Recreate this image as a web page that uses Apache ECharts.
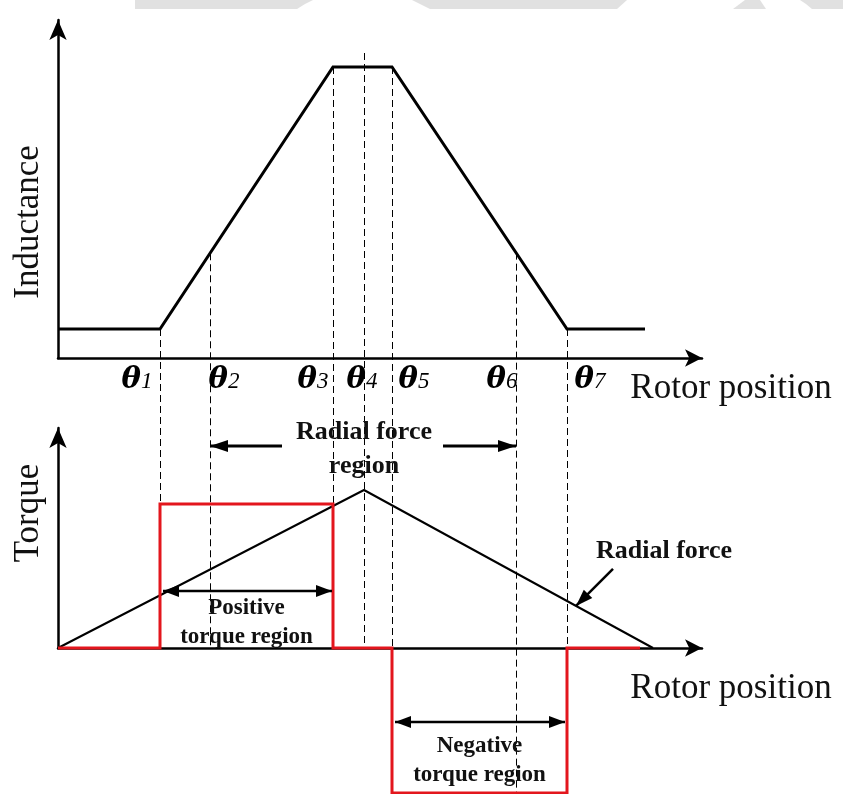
<!DOCTYPE html>
<html>
<head>
<meta charset="utf-8">
<title>Inductance, torque and radial force versus rotor position</title>
<script src="https://cdn.jsdelivr.net/npm/echarts@6/dist/echarts.min.js"></script>
<style>
  html, body { margin: 0; padding: 0; background: #fff; }
  #main { width: 843px; height: 794px; }
</style>
</head>
<body>
<div id="main"></div>
<script>
// Rotor positions of the characteristic angles (rotor-position units)
const thetaNames = ['1', '2', '3', '4', '5', '6', '7'];
const thetaPos = [10.2, 15.2, 27.5, 30.6, 33.4, 45.8, 50.9];

// Phase inductance profile
const inductanceX = [0, 10.2, 27.5, 33.4, 50.9, 58.7];
const inductanceY = [2.9, 2.9, 29.1, 29.1, 2.9, 2.9];

// Radial force profile
const forceX = [0, 30.6, 59.5];
const forceY = [0, 15.8, 0];

// Torque produced by the phase current (positive, then negative region)
const torqueX = [0, 10.2, 10.2, 27.5, 27.5, 33.4, 33.4, 50.9, 50.9, 58.2];
const torqueY = [0, 0, 14.4, 14.4, 0, 0, -14.5, -14.5, 0, 0];

// Axis ranges
const rotorMax = 64.4;
const inductanceMax = 33.8;
const torqueMax = 22;

const SERIF = '"Liberation Serif", "Times New Roman", serif';

function pairs(xs, ys) { return xs.map((x, i) => [x, ys[i]]); }

function axisX(gi) {
  return {
    gridIndex: gi, type: 'value', min: 0, max: rotorMax,
    axisLine: { show: true, onZero: false, symbol: ['none', 'arrow'], symbolSize: [13, 17],
      lineStyle: { color: '#000', width: 2.5 } },
    axisTick: { show: false }, axisLabel: { show: false }, splitLine: { show: false }
  };
}
function axisY(gi, max) {
  return {
    gridIndex: gi, type: 'value', min: 0, max: max,
    axisLine: { show: true, onZero: false, symbol: ['none', 'arrow'], symbolSize: [13, 20],
      lineStyle: { color: '#000', width: 2.5 } },
    axisTick: { show: false }, axisLabel: { show: false }, splitLine: { show: false }
  };
}

const chart = echarts.init(document.getElementById('main'));

chart.setOption({
  animation: false,
  backgroundColor: '#fff',
  grid: [
    { left: 58, top: 20, width: 644, height: 338 },
    { left: 58, top: 428, width: 644, height: 220 }
  ],
  xAxis: [axisX(0), axisX(1)],
  yAxis: [axisY(0, inductanceMax), axisY(1, torqueMax)],
  series: [
    {
      name: 'Inductance', type: 'line', xAxisIndex: 0, yAxisIndex: 0,
      data: pairs(inductanceX, inductanceY), showSymbol: false, clip: false,
      lineStyle: { color: '#000', width: 3, join: 'miter' }, z: 3
    },
    {
      name: 'Radial force', type: 'line', xAxisIndex: 1, yAxisIndex: 1,
      data: pairs(forceX, forceY), showSymbol: false, clip: false,
      lineStyle: { color: '#000', width: 2 }, z: 3
    },
    {
      name: 'Torque', type: 'line', xAxisIndex: 1, yAxisIndex: 1,
      data: pairs(torqueX, torqueY), showSymbol: false, clip: false,
      lineStyle: { color: '#e3161d', width: 3, join: 'miter' }, z: 4
    }
  ]
});

// ---- annotations built on top of the axes' own scales ----
const pA = (x, y) => chart.convertToPixel({ gridIndex: 0 }, [x, y]);
const pB = (x, y) => chart.convertToPixel({ gridIndex: 1 }, [x, y]);

function interp(xs, ys, x) {
  for (let i = 0; i < xs.length - 1; i++) {
    if (x >= xs[i] && x <= xs[i + 1]) {
      if (xs[i + 1] === xs[i]) return ys[i];
      return ys[i] + (ys[i + 1] - ys[i]) * (x - xs[i]) / (xs[i + 1] - xs[i]);
    }
  }
  return ys[ys.length - 1];
}

const g = [];

// faint grey strip along the upper edge
const strip = [
  [[135, 0], [313, 0], [305, 4], [297, 9], [135, 9]],
  [[412, 0], [627, 0], [617, 9], [430, 9], [420, 4]],
  [[745, 0], [760, 0], [766, 9], [733, 9]],
  [[800, 0], [843, 0], [843, 9], [812, 9], [806, 4]]
];
strip.forEach(pts => g.push({ type: 'polygon', shape: { points: pts }, style: { fill: '#e1e1e1' }, z: 0 }));

// dashed guide lines at each characteristic angle (snapped to the pixel grid)
const guideDash = [7, 4];
thetaPos.forEach((t, i) => {
  let topVal = interp(inductanceX, inductanceY, t);
  if (i === 3) topVal = 30.5;           // centre line rises above the plateau
  const top = pA(t, topVal);
  const bottom = pB(t, i === 5 ? torqueY[6] : 0);
  const x = Math.round(top[0]) + 0.5;
  g.push({
    type: 'line', shape: { x1: x, y1: top[1], x2: x, y2: bottom[1] },
    style: { stroke: '#000', lineWidth: 1, lineDash: guideDash }, z: 2
  });
});

// theta labels under the upper axis
const labelShift = [-23, 14, -20, -2, 22, -14, 23];
thetaPos.forEach((t, i) => {
  const p = pA(t, 0);
  g.push({
    type: 'text', z: 5,
    style: {
      x: p[0] + labelShift[i], y: 380,
      text: '{t|θ}{n|' + thetaNames[i] + '}',
      align: 'center', verticalAlign: 'middle',
      rich: {
        t: { font: 'italic bold 29px "DejaVu Serif", serif', fill: '#000' },
        n: { font: 'italic 23px ' + SERIF, fill: '#000', padding: [4, 0, 0, 0] }
      }
    }
  });
});

function arrowHead(tip, from, len, wid) {
  const dx = tip[0] - from[0], dy = tip[1] - from[1];
  const d = Math.hypot(dx, dy), ux = dx / d, uy = dy / d;
  const bx = tip[0] - ux * len, by = tip[1] - uy * len;
  return {
    type: 'polygon', z: 6,
    shape: { points: [[tip[0], tip[1]], [bx - uy * wid / 2, by + ux * wid / 2], [bx + uy * wid / 2, by - ux * wid / 2]] },
    style: { fill: '#000' }
  };
}
function arrow(a, b, heads, len, wid, lw) {
  g.push({ type: 'line', z: 6, shape: { x1: a[0], y1: a[1], x2: b[0], y2: b[1] },
    style: { stroke: '#000', lineWidth: lw } });
  if (heads.start) g.push(arrowHead(a, b, len, wid));
  if (heads.end) g.push(arrowHead(b, a, len, wid));
}

// radial force region
const rfY = 20.2;
arrow(pB(thetaPos[1], rfY), pB(22.4, rfY), { start: true }, 18, 12, 3);
arrow(pB(38.5, rfY), pB(thetaPos[5], rfY), { end: true }, 18, 12, 3);
// positive torque region
const ptY = 5.7;
const pa = pB(thetaPos[0], ptY), pb = pB(thetaPos[2], ptY);
arrow([pa[0] + 3, pa[1]], [pb[0] - 1, pb[1]], { start: true, end: true }, 16, 12, 2.5);
// negative torque region
const ntY = -7.4;
const na = pB(thetaPos[4], ntY), nb = pB(thetaPos[6], ntY);
arrow([na[0] + 3, na[1]], [nb[0] - 2, nb[1]], { start: true, end: true }, 16, 12, 2.5);
// pointer to the radial-force curve
const tipX = 51.8;
const tip = pB(tipX, interp(forceX, forceY, tipX));
arrow([tip[0] + 37, tip[1] - 37], tip, { end: true }, 17, 12, 2.5);

function label(text, x, y, size, bold, rot) {
  g.push({
    type: 'text', z: 7, x: x, y: y, rotation: rot || 0,
    style: {
      text: text, align: 'center', verticalAlign: 'middle',
      font: (bold ? 'bold ' : '') + size + 'px ' + SERIF, fill: '#111'
    }
  });
}
const mid = pB(thetaPos[3], 0);
label('Radial force', mid[0], 432, 26, true);
label('region', mid[0], 466, 26, true);
const posMid = (pa[0] + pb[0]) / 2;
label('Positive', posMid, 608, 23, true);
label('torque region', posMid, 637, 23, true);
const negMid = (na[0] + nb[0]) / 2;
label('Negative', negMid, 746, 23, true);
label('torque region', negMid, 775, 23, true);
label('Radial force', 664, 551, 26, true);

label('Inductance', 29, 222, 35, false, Math.PI / 2);
label('Torque', 29, 513, 35, false, Math.PI / 2);
label('Rotor position', 731, 389, 35, false);
label('Rotor position', 731, 689, 35, false);

chart.setOption({ graphic: g });
</script>
</body>
</html>
